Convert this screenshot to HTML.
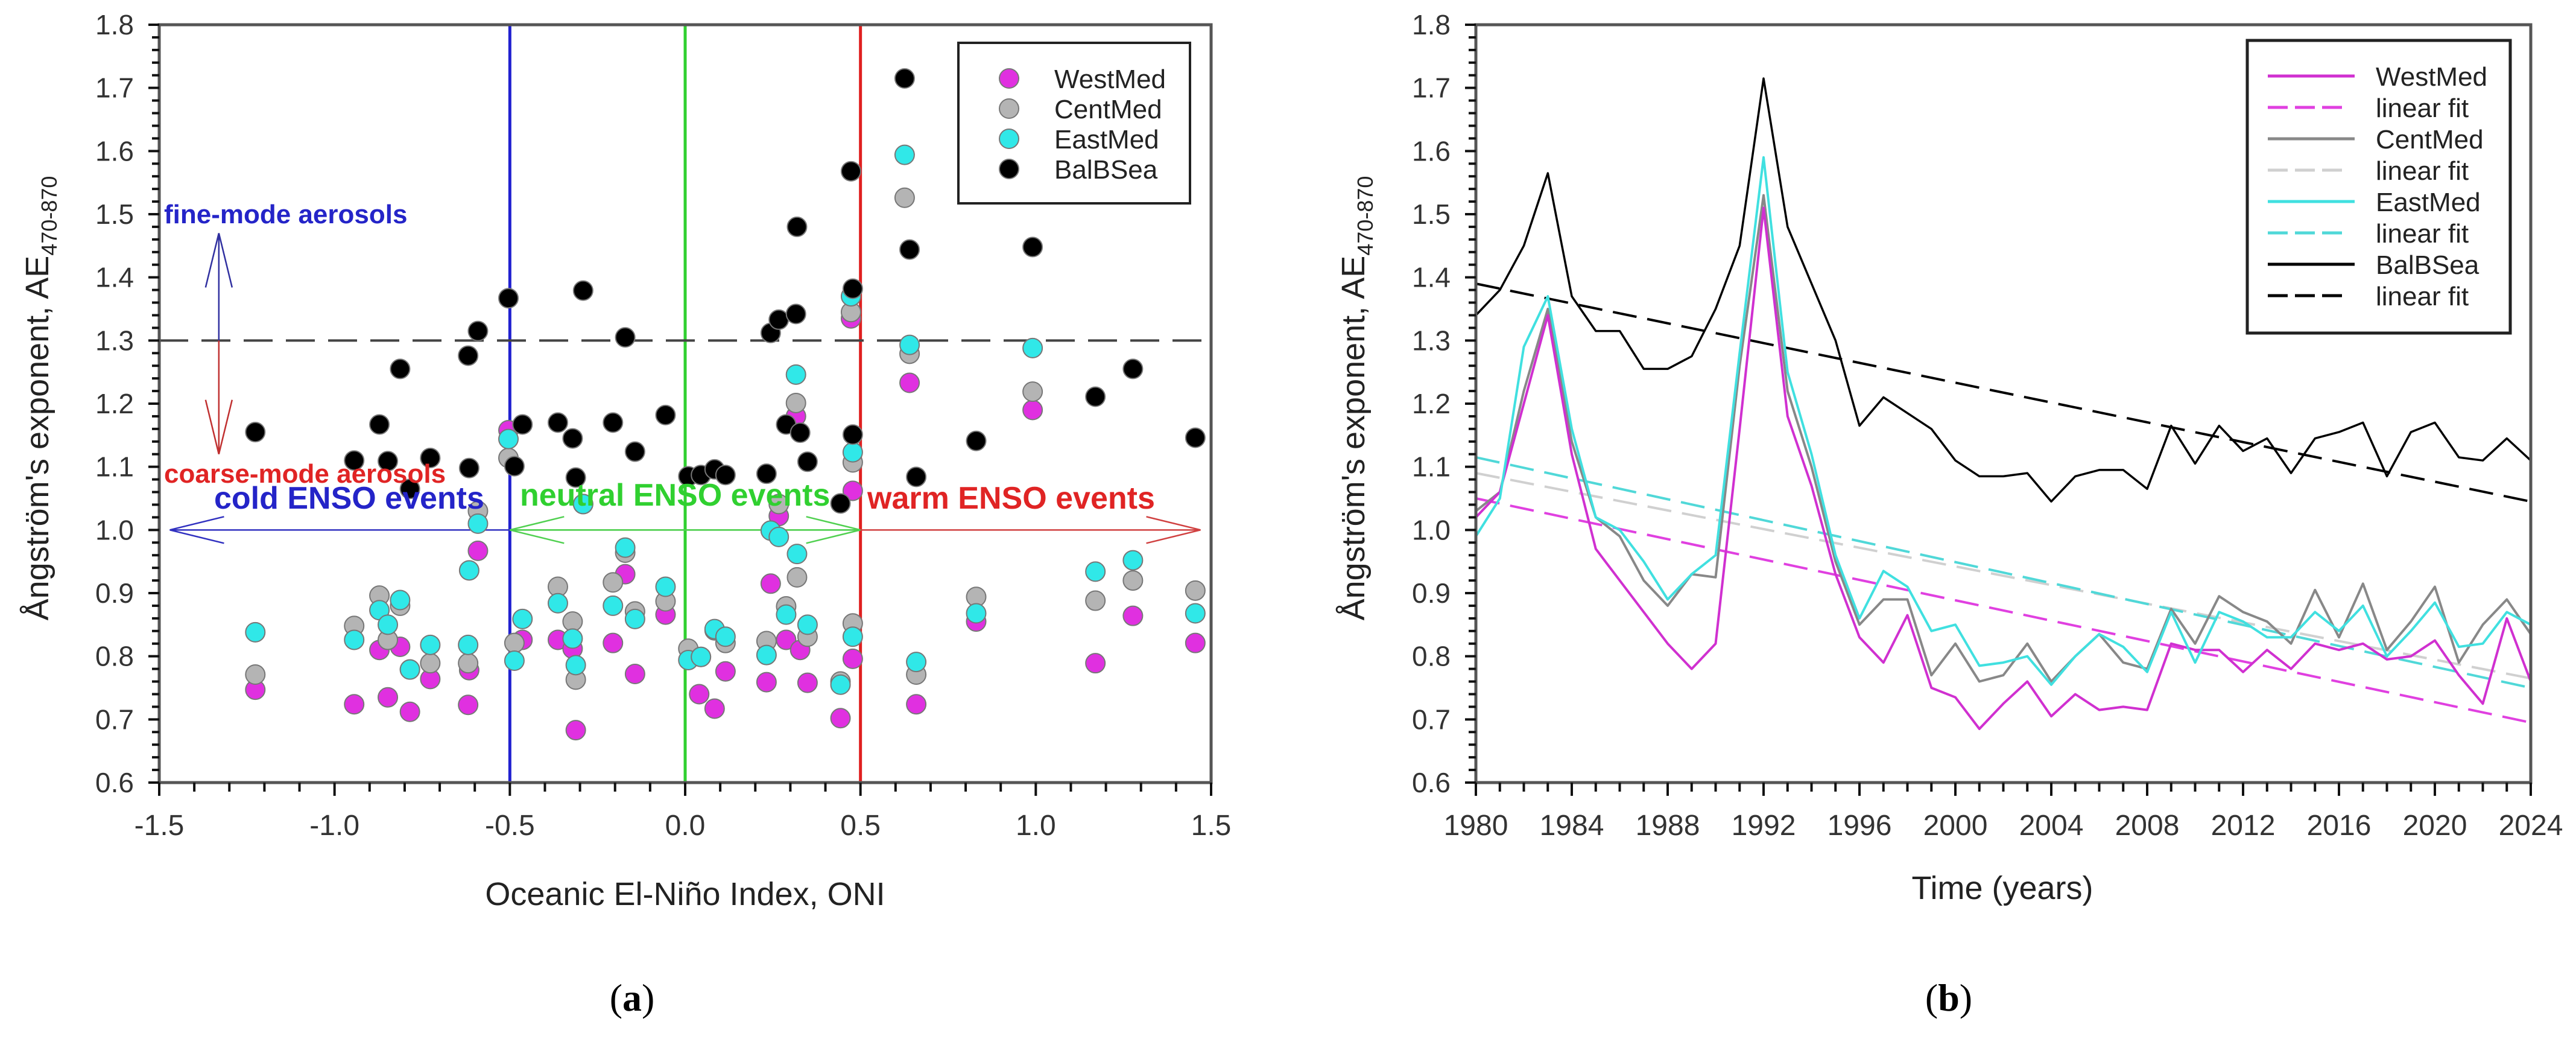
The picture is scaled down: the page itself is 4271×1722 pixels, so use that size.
<!DOCTYPE html>
<html><head><meta charset="utf-8">
<style>
html,body{margin:0;padding:0;background:#fff;}
svg{display:block;font-family:"Liberation Sans",sans-serif;}
</style></head>
<body>
<svg id="fig" width="4271" height="1722" viewBox="0 0 4271 1722" xmlns="http://www.w3.org/2000/svg">
<rect width="4271" height="1722" fill="#fff"/>
<g id="pa"></g>
<g id="pb"></g>
</svg>
<script>
// ---------- Panel (a) data ----------
const balX=[-1.226,-0.944,-0.872,-0.848,-0.813,-0.785,-0.727,-0.619,-0.616,-0.591,-0.504,-0.487,-0.464,-0.363,-0.321,-0.312,-0.291,-0.206,-0.171,-0.143,-0.056,0.009,0.045,0.084,0.115,0.232,0.244,0.267,0.288,0.316,0.319,0.328,0.349,0.443,0.473,0.478,0.478,0.626,0.640,0.659,0.830,0.991,1.170,1.277,1.455];
const balY=[1.155,1.110,1.167,1.109,1.255,1.065,1.114,1.276,1.098,1.315,1.367,1.101,1.167,1.170,1.145,1.083,1.379,1.170,1.305,1.124,1.182,1.085,1.087,1.096,1.087,1.089,1.312,1.333,1.167,1.342,1.480,1.154,1.108,1.042,1.568,1.382,1.151,1.715,1.444,1.084,1.141,1.448,1.211,1.255,1.146];
const westX=[-1.226,-0.944,-0.872,-0.848,-0.813,-0.785,-0.727,-0.619,-0.616,-0.591,-0.504,-0.464,-0.363,-0.321,-0.312,-0.206,-0.171,-0.143,-0.056,0.040,0.084,0.115,0.232,0.244,0.267,0.288,0.316,0.328,0.349,0.443,0.473,0.478,0.478,0.640,0.659,0.830,0.991,1.170,1.277,1.455];
const westY=[0.747,0.724,0.810,0.735,0.815,0.712,0.764,0.723,0.778,0.967,1.158,0.826,0.826,0.812,0.683,0.821,0.930,0.772,0.866,0.740,0.717,0.776,0.759,0.915,1.022,0.826,1.180,0.810,0.758,0.702,1.335,1.062,0.796,1.233,0.724,0.855,1.190,0.789,0.864,0.821];
const centX=[-1.226,-0.944,-0.872,-0.848,-0.813,-0.785,-0.727,-0.619,-0.591,-0.504,-0.487,-0.363,-0.321,-0.312,-0.291,-0.206,-0.171,-0.143,-0.056,0.009,0.045,0.084,0.115,0.232,0.267,0.288,0.316,0.319,0.349,0.443,0.473,0.478,0.478,0.626,0.640,0.659,0.830,0.991,1.170,1.277,1.455];
const centY=[0.771,0.848,0.896,0.826,0.880,0.779,0.789,0.789,1.030,1.114,0.821,0.910,0.855,0.763,1.041,0.917,0.964,0.871,0.887,0.812,0.799,0.841,0.821,0.824,1.041,0.879,1.201,0.925,0.831,0.760,1.345,1.107,0.852,1.526,1.279,0.771,0.894,1.219,0.888,0.920,0.904];
const eastX=[-1.226,-0.944,-0.872,-0.848,-0.813,-0.785,-0.727,-0.619,-0.616,-0.591,-0.504,-0.487,-0.464,-0.363,-0.321,-0.312,-0.291,-0.206,-0.171,-0.143,-0.056,0.009,0.045,0.084,0.115,0.232,0.244,0.267,0.288,0.316,0.319,0.349,0.443,0.473,0.478,0.478,0.626,0.640,0.659,0.830,0.991,1.170,1.277,1.455];
const eastY=[0.838,0.826,0.873,0.850,0.889,0.779,0.818,0.818,0.936,1.010,1.144,0.793,0.859,0.884,0.828,0.786,1.041,0.880,0.972,0.859,0.910,0.794,0.799,0.843,0.831,0.802,0.999,0.989,0.866,1.246,0.962,0.850,0.755,1.370,1.123,0.831,1.594,1.293,0.791,0.868,1.288,0.934,0.952,0.868];
const aXTicks=["-1.5","-1.0","-0.5","0.0","0.5","1.0","1.5"];
const yTicks=["0.6","0.7","0.8","0.9","1.0","1.1","1.2","1.3","1.4","1.5","1.6","1.7","1.8"];

// ---------- Panel (b) data ----------
const years=[1980,1981,1982,1983,1984,1985,1986,1987,1988,1989,1990,1991,1992,1993,1994,1995,1996,1997,1998,1999,2000,2001,2002,2003,2004,2005,2006,2007,2008,2009,2010,2011,2012,2013,2014,2015,2016,2017,2018,2019,2020,2021,2022,2023,2024];
const balSeries=[1.34,1.38,1.45,1.565,1.37,1.315,1.315,1.255,1.255,1.275,1.35,1.45,1.715,1.48,1.39,1.30,1.165,1.21,1.185,1.16,1.11,1.085,1.085,1.09,1.045,1.085,1.095,1.095,1.065,1.165,1.105,1.165,1.125,1.145,1.09,1.145,1.155,1.17,1.085,1.155,1.17,1.115,1.11,1.145,1.11];
const westSeries=[1.02,1.06,1.20,1.34,1.12,0.97,0.92,0.87,0.82,0.78,0.82,1.16,1.51,1.18,1.07,0.93,0.83,0.79,0.865,0.75,0.735,0.685,0.725,0.76,0.705,0.74,0.715,0.72,0.715,0.82,0.81,0.81,0.775,0.81,0.78,0.82,0.81,0.82,0.795,0.80,0.825,0.77,0.725,0.86,0.76];
const centSeries=[1.03,1.06,1.22,1.35,1.14,1.02,0.99,0.92,0.88,0.93,0.925,1.26,1.53,1.22,1.10,0.95,0.85,0.89,0.89,0.77,0.82,0.76,0.77,0.82,0.76,0.80,0.835,0.79,0.78,0.875,0.82,0.895,0.87,0.855,0.82,0.905,0.83,0.915,0.81,0.855,0.91,0.79,0.85,0.89,0.835];
const eastSeries=[0.99,1.05,1.29,1.37,1.16,1.02,1.00,0.95,0.89,0.93,0.96,1.28,1.59,1.25,1.12,0.96,0.86,0.935,0.91,0.84,0.85,0.785,0.79,0.80,0.755,0.80,0.835,0.815,0.775,0.87,0.79,0.87,0.855,0.83,0.83,0.87,0.84,0.88,0.80,0.84,0.885,0.815,0.82,0.87,0.85];
const fitStart=[1.05,1.09,1.115,1.39];
const fitEnd=[0.695,0.765,0.75,1.045];
const bXTicks=["1980","1984","1988","1992","1996","2000","2004","2008","2012","2016","2020","2024"];

const NS="http://www.w3.org/2000/svg";
function mk(tag,attrs,parent,txt){const e=document.createElementNS(NS,tag);for(const k in attrs)e.setAttribute(k,attrs[k]);if(txt!==undefined)e.textContent=txt;parent.appendChild(e);return e;}

const TOP=41,BOT=1297;
function yS(v){return BOT-(v-0.6)/1.2*(BOT-TOP);}

function yAxis(g,L){
  for(let i=0;i<=60;i++){const v=0.6+i*0.02;const y=yS(v);const maj=i%5===0;
    const t=mk('line',{x1:L,x2:L-(maj?18:12),y1:y,y2:y,stroke:'#111','stroke-width':4},g);
    }
  yTicks.forEach(s=>{const t=mk('text',{x:L-42,y:yS(parseFloat(s))+16,'text-anchor':'end','font-size':46,fill:'#333'},g,s);
    });
}
function yTitle(g,x){
  const t=mk('text',{transform:`translate(${x},660) rotate(-90)`,'text-anchor':'middle','font-size':54,fill:'#222'},g);
  
  mk('tspan',{},t,"Ångström's exponent, AE");
  mk('tspan',{'font-size':36,dy:14},t,"470-870");
}
function frame(g,L,R){const f=mk('rect',{x:L,y:TOP,width:R-L,height:BOT-TOP,fill:'none',stroke:'#555','stroke-width':5},g);
  }

// ---------- Panel (a) ----------
(function(){
const g=document.getElementById('pa');
const L=264,R=2008;
const xS=v=>L+(v+1.5)/3*(R-L);
// vertical lines
[[-0.5,'#2020d0'],[0,'#30d030'],[0.5,'#e02020']].forEach(([v,c])=>{const l=mk('line',{x1:xS(v),x2:xS(v),y1:TOP,y2:BOT,stroke:c,'stroke-width':5},g);
  });
// dashed 1.3
const hl=mk('line',{x1:L,x2:R,y1:yS(1.3),y2:yS(1.3),stroke:'#444','stroke-width':4,'stroke-dasharray':'48 22'},g);

// fine/coarse arrows
const ax=xS(-1.33);
function arr(x1,y1,x2,y2,c,name){const gg=mk('g',{stroke:c,'stroke-width':2.5,fill:'none'},g);
  
  mk('line',{x1,y1,x2,y2},gg);
  const dx=x2-x1,dy=y2-y1,len=Math.hypot(dx,dy),ux=dx/len,uy=dy/len,hl=90,hw=22;
  mk('line',{x1:x2,y1:y2,x2:x2-ux*hl-uy*hw,y2:y2-uy*hl+ux*hw},gg);
  mk('line',{x1:x2,y1:y2,x2:x2-ux*hl+uy*hw,y2:y2-uy*hl-ux*hw},gg);}
arr(ax,yS(1.3),ax,yS(1.47),'#3030a0','fine-mode-arrow');
arr(ax,yS(1.3),ax,yS(1.12),'#c03030','coarse-mode-arrow');
arr(xS(-0.5),yS(1.0),xS(-1.47),yS(1.0),'#3030c0','cold-arrow');
arr(xS(-0.5),yS(1.0),xS(0.5),yS(1.0),'#50d050','neutral-arrow-right');
arr(xS(0.5),yS(1.0),xS(-0.5),yS(1.0),'#50d050','neutral-arrow-left');
arr(xS(0.5),yS(1.0),xS(1.47),yS(1.0),'#d04040','warm-arrow');
// scatter
function scat(xs,ys,fill,name){xs.forEach((x,i)=>{const c=mk('circle',{cx:xS(x),cy:yS(ys[i]),r:16,fill,stroke:'#777','stroke-width':2},g);
  });}
scat(westX,westY,'#e030e0','westmed-point');
scat(centX,centY,'#b4b4b4','centmed-point');
scat(eastX,eastY,'#30e8e8','eastmed-point');
scat(balX,balY,'#000','balbsea-point');
// annotations
function lbl(x,y,s,c,fs,name,anchor){const t=mk('text',{x,y,'font-size':fs,'font-weight':'bold',fill:c,'text-anchor':anchor||'start'},g,s);
  }
lbl(272,370,'fine-mode aerosols','#2424c8',44,'fine-mode-label');
lbl(272,800,'coarse-mode aerosols','#e02424',44,'coarse-mode-label');
lbl(355,843,'cold ENSO events','#2424c8',52,'cold-enso-label');
lbl(862,838,'neutral ENSO events','#30d030',52,'neutral-enso-label');
lbl(1438,843,'warm ENSO events','#e02424',52,'warm-enso-label');
frame(g,L,R);
// x ticks
for(let i=0;i<=30;i++){const v=-1.5+i*0.1;const x=xS(v);const maj=i%5===0;
  const t=mk('line',{x1:x,x2:x,y1:BOT,y2:BOT+(maj?22:15),stroke:'#111','stroke-width':4},g);
  }
aXTicks.forEach(s=>{const t=mk('text',{x:xS(parseFloat(s)),y:1384,'text-anchor':'middle','font-size':48,fill:'#333'},g,s);
  });
yAxis(g,L);
yTitle(g,80);
const xt=mk('text',{x:1136,y:1500,'text-anchor':'middle','font-size':54,fill:'#222'},g,'Oceanic El-Niño Index, ONI');

// legend
const lg=mk('g',{},g);
mk('rect',{x:1589,y:71,width:384,height:266,fill:'#fff',stroke:'#222','stroke-width':4},lg);
[['WestMed','#e030e0'],['CentMed','#b4b4b4'],['EastMed','#30e8e8'],['BalBSea','#000']].forEach(([n,c],i)=>{
  const y=130+i*50;
  const m=mk('circle',{cx:1673,cy:y,r:16,fill:c,stroke:'#777','stroke-width':2},lg);
  
  const t=mk('text',{x:1748,y:y+16,'font-size':44,fill:'#222'},lg,n);
  });
const cap=mk('text',{x:1048,y:1675,'text-anchor':'middle','font-size':64,'font-family':'"Liberation Serif",serif',fill:'#000'},g);

mk('tspan',{},cap,'(');mk('tspan',{'font-weight':'bold'},cap,'a');mk('tspan',{},cap,')');
})();

// ---------- Panel (b) ----------
(function(){
const g=document.getElementById('pb');
const L=2447,R=4196;
const xS=v=>L+(v-1980)/44*(R-L);
const cols=['#d030d0','#888','#40e0e0','#000'];
const fitCols=['#e040e0','#d0d0d0','#50d8d8','#000'];
const names=['westmed','centmed','eastmed','balbsea'];
const series=[westSeries,centSeries,eastSeries,balSeries];
// fits
fitStart.forEach((s,i)=>{const l=mk('line',{x1:xS(1980),y1:yS(s),x2:xS(2024),y2:yS(fitEnd[i]),stroke:fitCols[i],'stroke-width':4,'stroke-dasharray':'40 18'},g);
  });
// series lines
[1,0,2,3].forEach(i=>{const d=series[i].map((v,j)=>(j?'L':'M')+xS(years[j]).toFixed(1)+','+yS(v).toFixed(1)).join(' ');
  const p=mk('path',{d,fill:'none',stroke:cols[i],'stroke-width':i===3?3.5:4,'stroke-linejoin':'round'},g);
  });
frame(g,L,R);
for(let yr=1980;yr<=2024;yr++){const x=xS(yr);const maj=(yr-1980)%4===0;
  const t=mk('line',{x1:x,x2:x,y1:BOT,y2:BOT+(maj?22:15),stroke:'#111','stroke-width':4},g);
  }
bXTicks.forEach(s=>{const t=mk('text',{x:xS(parseInt(s)),y:1384,'text-anchor':'middle','font-size':48,fill:'#333'},g,s);
  });
yAxis(g,L);
yTitle(g,2262);
const xt=mk('text',{x:3320,y:1490,'text-anchor':'middle','font-size':54,fill:'#222'},g,'Time (years)');

// legend
const lg=mk('g',{},g);
mk('rect',{x:3726,y:67,width:436,height:485,fill:'#fff',stroke:'#222','stroke-width':5},lg);
const legNames=['WestMed','linear fit','CentMed','linear fit','EastMed','linear fit','BalBSea','linear fit'];
legNames.forEach((n,k)=>{const i=Math.floor(k/2),dash=k%2===1;const y=126+k*52;
  const l=mk('line',{x1:3760,x2:dash?3890:3904,y1:y,y2:y,stroke:dash?fitCols[i]:cols[i],'stroke-width':5},lg);
  if(dash)l.setAttribute('stroke-dasharray','33 12');
  
  const t=mk('text',{x:3939,y:y+16,'font-size':44,fill:'#222'},lg,n);
  });
const cap=mk('text',{x:3231,y:1675,'text-anchor':'middle','font-size':64,'font-family':'"Liberation Serif",serif',fill:'#000'},g);

mk('tspan',{},cap,'(');mk('tspan',{'font-weight':'bold'},cap,'b');mk('tspan',{},cap,')');
})();
</script>
</body></html>
